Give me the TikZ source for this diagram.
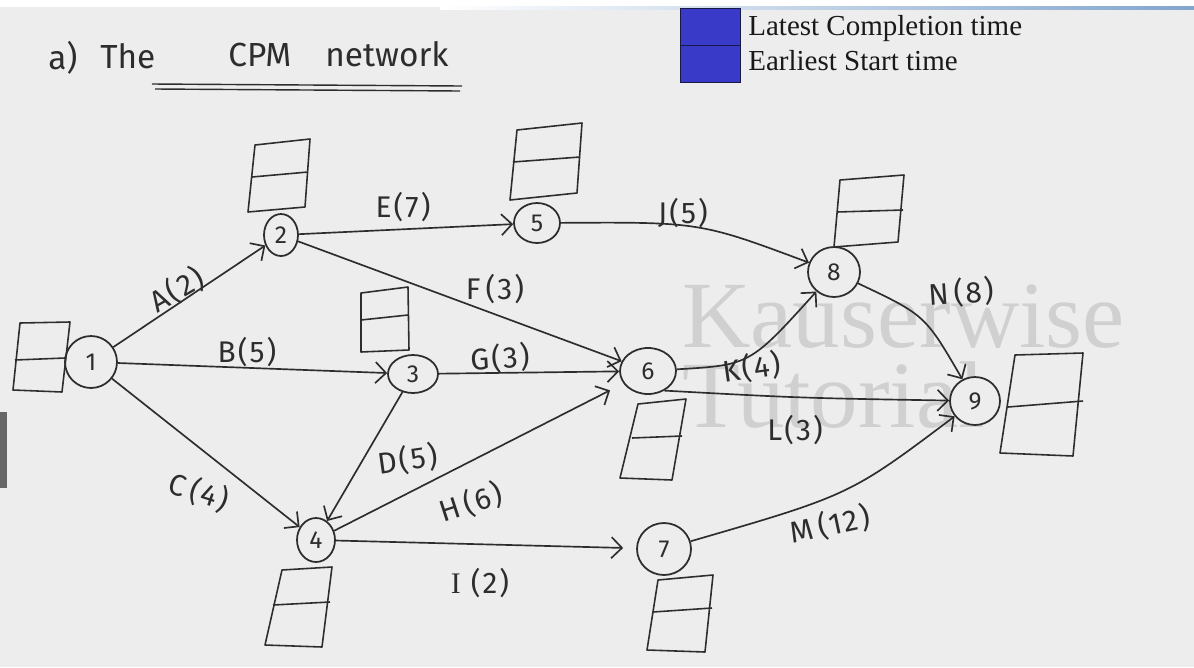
\documentclass[tikz,border=0pt]{standalone}
\usepackage{fontspec}
\setmainfont{Liberation Serif}
\newfontfamily\hand{Fira Sans}[LetterSpace=7]
\newfontfamily\handtight{Fira Sans}
\usetikzlibrary{arrows.meta,shapes.geometric}

\definecolor{board}{RGB}{237,237,237}
\definecolor{inkc}{RGB}{45,45,45}
\definecolor{legblue}{RGB}{58,58,200}
\definecolor{legedge}{RGB}{25,25,70}
\definecolor{wmark}{RGB}{208,208,208}
\definecolor{stripc}{RGB}{130,165,205}

\begin{document}
\begin{tikzpicture}[x=0.02cm,y=-0.02cm,
  evt/.style={ellipse, draw=inkc, fill=board, line width=1pt, inner sep=0pt,
              font=\handtight\fontsize{14}{14}\selectfont, text=inkc},
  act/.style={draw=inkc, line width=0.95pt,
              -{Straight Barb[length=6pt,width=12pt,line width=0.95pt]}},
  lbl/.style={font=\hand\fontsize{17}{17}\selectfont, text=inkc, inner sep=0pt},
  cell/.style={draw=inkc, line width=0.9pt, line join=round},
  ttl/.style={font=\handtight\fontsize{19}{19}\selectfont, text=inkc, inner sep=0pt, anchor=base west},
  legtxt/.style={font=\fontsize{16.5}{16.5}\selectfont, text=black!90, inner sep=0pt, anchor=base west},
  wm/.style={font=\fontsize{54}{54}\selectfont, text=wmark, inner sep=0pt, anchor=base west}
]
\useasboundingbox (0,0) rectangle (1194,667);

% board
\fill[board] (0,0) rectangle (1194,667);
\fill[white] (0,0) rectangle (1194,7);
\shade[left color=white, right color=stripc] (440,6) rectangle (1194,9);
\fill[black!60] (0,412) rectangle (7,488);

% legend
\node[draw=legedge, fill=legblue, line width=0.8pt, minimum width=1.2cm, minimum height=0.74cm,
      inner sep=0pt, anchor=north west] (legtop) at (680,8) {};
\node[draw=legedge, fill=legblue, line width=0.8pt, minimum width=1.2cm, minimum height=0.74cm,
      inner sep=0pt, anchor=north west] (legbot) at (680,45) {};
\node[legtxt] (leglct) at (748,35) {Latest Completion time};
\node[legtxt] (legest) at (748,70) {Earliest Start time};

% heading
\node[ttl] (ta) at (48,69) {a)};
\node[ttl] (tthe) at (100,68) {The};
\node[ttl] (tcpm) at (228,66) {CPM};
\node[ttl] (tnet) at (325,66) {network};
\draw[inkc, line width=0.8pt] (152,84) -- (462,86);
\draw[inkc, line width=0.8pt] (155,89) -- (460,91);

% watermark
\node[wm] (wm1) at (682,347) {Kauserwise};
\node[wm] (wm2) at (682,427) {Tutorial};

% events
\node[evt, minimum width=1.04cm, minimum height=1.04cm] (n1) at (91,362) {1};
\node[evt, minimum width=0.68cm, minimum height=0.84cm] (n2) at (281,235) {2};
\node[evt, minimum width=1.00cm, minimum height=0.76cm] (n3) at (413,374) {3};
\node[evt, minimum width=0.76cm, minimum height=0.88cm] (n4) at (316,540) {4};
\node[evt, minimum width=0.92cm, minimum height=0.80cm] (n5) at (537,223) {5};
\node[evt, minimum width=1.12cm, minimum height=0.92cm] (n6) at (648,371) {6};
\node[evt, minimum width=1.08cm, minimum height=1.04cm] (n7) at (664,549) {7};
\node[evt, minimum width=1.04cm, minimum height=1.00cm] (n8) at (834,272) {8};
\node[evt, minimum width=1.00cm, minimum height=0.96cm] (n9) at (975,401) {9};

% time boxes
\draw[cell] (20,323) -- (70,322) -- (62,392) -- (13,390) -- cycle;  \draw[cell] (15,360) -- (65,358);
\draw[cell] (255,145) -- (310,139) -- (305,207) -- (248,212) -- cycle; \draw[cell] (252,177) -- (308,172);
\draw[cell] (517,130) -- (582,123) -- (577,193) -- (510,200) -- cycle; \draw[cell] (513,162) -- (580,157);
\draw[cell] (361,293) -- (408,287) -- (409,350) -- (361,352) -- cycle; \draw[cell] (361,320) -- (408,315);
\draw[cell] (840,180) -- (904,175) -- (898,242) -- (834,247) -- cycle; \draw[cell] (837,212) -- (903,210);
\draw[cell] (638,404) -- (686,399) -- (672,480) -- (620,478) -- cycle; \draw[cell] (632,438) -- (682,436);
\draw[cell] (282,570) -- (332,567) -- (322,647) -- (265,645) -- cycle; \draw[cell] (273,605) -- (330,602);
\draw[cell] (658,580) -- (713,575) -- (705,652) -- (647,650) -- cycle; \draw[cell] (653,612) -- (712,608);
\draw[cell] (1015,355) -- (1083,353) -- (1073,456) -- (1000,453) -- cycle; \draw[cell] (1008,407) -- (1083,401);

% activities
\draw[act] (n1) -- (n2);
\draw[act] (n1) -- (n3);
\draw[act] (n1) -- (n4);
\draw[act] (n3) -- (n4);
\draw[act] (n2) -- (n5);
\draw[act] (n2) -- (n6);
\draw[act] (n3) -- (n6);
\draw[act, shorten >=0.3cm] (n4) -- (n6);
\draw[act, shorten >=0.26cm] (n4) -- (n7);
\draw[act] (n5) .. controls (700,222) .. (n8);
\draw[act] (n6) .. controls (750,365) .. (n8);
\draw[act] (n6.-50) .. controls (800,398) .. (n9);
\draw[act] (n7) .. controls (850,495) .. (n9);
\draw[act] (n8) .. controls (925,315) .. (n9);

% activity labels
\node[lbl, rotate=30]  (la) at (177,290) {A(2)};
\node[lbl]             (lb) at (247,352) {B(5)};
\node[lbl, rotate=-18] (lc) at (199,492) {C\,(4)};
\node[lbl, rotate=8]   (ld) at (408,460) {D(5)};
\node[lbl]             (le) at (403,207) {E(7)};
\node[lbl]             (lf) at (495,289) {F\,(3)};
\node[lbl, rotate=4]   (lg) at (500,358) {G(3)};
\node[lbl, rotate=18]  (lh) at (471,503) {H\,(6)};
\node[lbl]             (li) at (480,583) {{\rmfamily I}\,\,(2)};
\node[lbl]             (lj) at (683,213) {J(5)};
\node[lbl, rotate=8]   (lk) at (752,368) {K(4)};
\node[lbl]             (ll) at (795,430) {L(3)};
\node[lbl, rotate=12]  (lm) at (830,525) {M\,(12)};
\node[lbl, rotate=4]   (ln) at (961,293) {N\,(8)};
\end{tikzpicture}
\end{document}
